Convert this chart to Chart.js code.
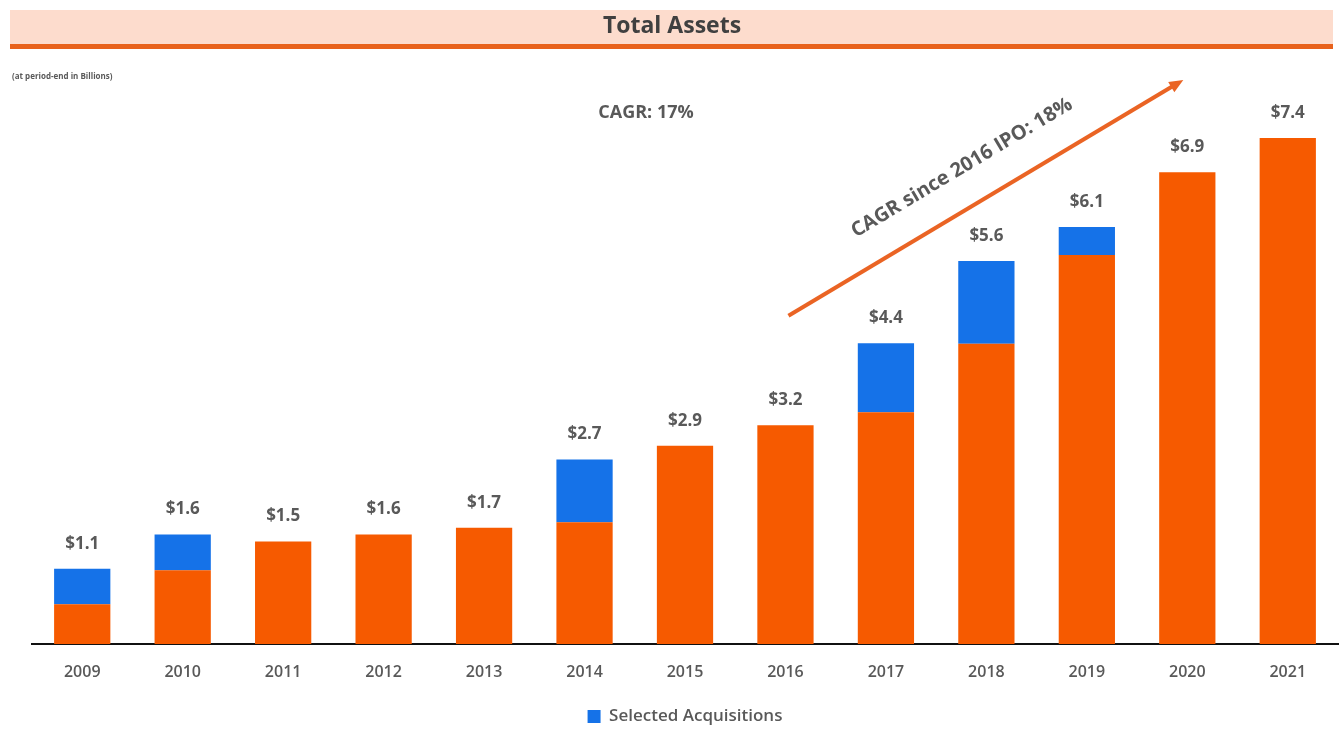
<!DOCTYPE html>
<html>
<head>
<meta charset="utf-8">
<title>Total Assets</title>
<script src="https://cdn.jsdelivr.net/npm/chart.js@4/dist/chart.umd.min.js"></script>
<style>
  html, body { margin: 0; padding: 0; background: #fff; }
  #wrap { width: 1342px; height: 729px; position: relative; }
</style>
</head>
<body>
<div id="wrap"><canvas id="assetsChart" width="1342" height="729"></canvas></div>
<script>
// DATA
const years = ['2009', '2010', '2011', '2012', '2013', '2014', '2015', '2016', '2017', '2018', '2019', '2020', '2021'];
const organicAssets = [0.58, 1.08, 1.50, 1.60, 1.70, 1.78, 2.90, 3.20, 3.39, 4.39, 5.69, 6.90, 7.40];
const acquiredAssets = [0.52, 0.52, 0, 0, 0, 0.92, 0, 0, 1.01, 1.21, 0.41, 0, 0];
const totalLabels = ['$1.1', '$1.6', '$1.5', '$1.6', '$1.7', '$2.7', '$2.9', '$3.2', '$4.4', '$5.6', '$6.1', '$6.9', '$7.4'];

const ORANGE = '#f65a00';
const BLUE = '#1572e8';
const TEXT = '#595959';
const FONT = "'Open Sans', 'Noto Sans', sans-serif";

// annotation anchors (category index, value in billions)
const arrowFrom = { x: 7.03, y: 4.8 };
const arrowTo = { x: 10.96, y: 8.25 };

// ================================
// Title bar, subtitle, CAGR notes
// ================================
const decorPlugin = {
  id: 'decor',
  beforeDraw(chart) {
    const ctx = chart.ctx;
    ctx.save();
    ctx.fillStyle = '#fddccd';
    ctx.fillRect(10, 10, 1323, 35);
    ctx.fillStyle = '#e8621c';
    ctx.fillRect(10, 44, 1323, 5);

    ctx.fillStyle = '#404040';
    ctx.font = `bold 23px ${FONT}`;
    ctx.textAlign = 'center';
    ctx.textBaseline = 'middle';
    ctx.fillText('Total Assets', 672, 26);

    ctx.fillStyle = TEXT;
    ctx.font = `bold 8px ${FONT}`;
    ctx.textAlign = 'left';
    ctx.fillText('(at period-end in Billions)', 12, 77);

    ctx.font = `bold 18px ${FONT}`;
    ctx.textAlign = 'center';
    ctx.fillText('CAGR: 17%', 646, 113);
    ctx.restore();
  },
  afterDatasetsDraw(chart) {
    const ctx = chart.ctx;
    const xs = chart.scales.x;
    const ys = chart.scales.y;
    ctx.save();

    // value labels above each stack
    ctx.fillStyle = TEXT;
    ctx.font = `bold 17px ${FONT}`;
    ctx.textAlign = 'center';
    ctx.textBaseline = 'middle';
    years.forEach((_, i) => {
      const total = organicAssets[i] + acquiredAssets[i];
      ctx.fillText(totalLabels[i], xs.getPixelForValue(i), ys.getPixelForValue(total) - 25);
    });

    // growth arrow
    const x1 = xs.getPixelForValue(arrowFrom.x), y1 = ys.getPixelForValue(arrowFrom.y);
    const x2 = xs.getPixelForValue(arrowTo.x), y2 = ys.getPixelForValue(arrowTo.y);
    const ang = Math.atan2(y2 - y1, x2 - x1);
    ctx.strokeStyle = '#ea6424';
    ctx.fillStyle = '#ea6424';
    ctx.lineWidth = 4;
    ctx.beginPath();
    ctx.moveTo(x1, y1);
    ctx.lineTo(x2 - 10 * Math.cos(ang), y2 - 10 * Math.sin(ang));
    ctx.stroke();
    ctx.beginPath();
    ctx.moveTo(x2, y2);
    ctx.lineTo(x2 - 14 * Math.cos(ang) + 6 * Math.sin(ang), y2 - 14 * Math.sin(ang) - 6 * Math.cos(ang));
    ctx.lineTo(x2 - 14 * Math.cos(ang) - 6 * Math.sin(ang), y2 - 14 * Math.sin(ang) + 6 * Math.cos(ang));
    ctx.closePath();
    ctx.fill();

    // rotated note along the arrow
    const mx = (x1 + x2) / 2, my = (y1 + y2) / 2;
    ctx.translate(mx - 24, my - 30);
    ctx.rotate(ang);
    ctx.fillStyle = TEXT;
    ctx.font = `bold 20px ${FONT}`;
    ctx.textAlign = 'center';
    ctx.textBaseline = 'middle';
    ctx.fillText('CAGR since 2016 IPO: 18%', 0, 0);
    ctx.restore();
  }
};

// ================================
// Chart
// ================================
new Chart(document.getElementById('assetsChart'), {
  type: 'bar',
  data: {
    labels: years,
    datasets: [
      { label: 'Organic', data: organicAssets, backgroundColor: ORANGE, stack: 's' },
      { label: 'Selected Acquisitions', data: acquiredAssets, backgroundColor: BLUE, stack: 's' }
    ]
  },
  options: {
    responsive: false,
    animation: false,
    layout: { padding: { top: 97, left: 32, right: 4, bottom: -6 } },
    datasets: { bar: { barPercentage: 0.56, categoryPercentage: 1 } },
    plugins: {
      tooltip: { enabled: false },
      legend: {
        position: 'bottom',
        labels: {
          filter: item => item.text === 'Selected Acquisitions',
          boxWidth: 13,
          boxHeight: 13,
          color: TEXT,
          font: { family: FONT, size: 17, weight: 600 },
          padding: 3
        }
      }
    },
    scales: {
      x: {
        stacked: true,
        grid: { display: false },
        border: { display: true, color: '#111', width: 2 },
        ticks: { color: TEXT, font: { family: FONT, size: 16, weight: 600 }, padding: 11 },
        afterFit: scale => { scale.height = 61; }
      },
      y: {
        stacked: true,
        display: false,
        min: 0,
        max: 8
      }
    }
  },
  plugins: [decorPlugin]
});
</script>
</body>
</html>
